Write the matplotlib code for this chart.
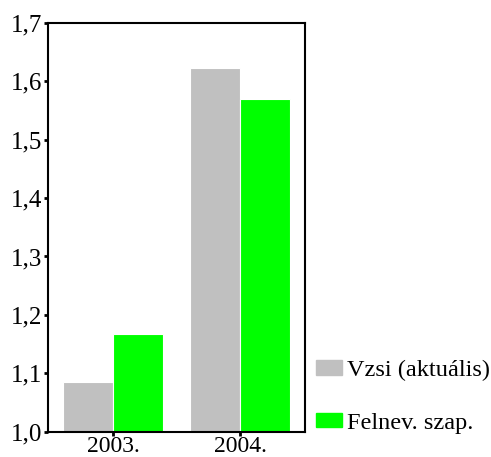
import matplotlib.pyplot as plt
import numpy as np
from matplotlib.patches import Patch

years = ['2003.', '2004.']
vzsi = [1.085, 1.622]
felnev = [1.168, 1.570]
series_names = ['Vzsi (aktuális)', 'Felnev. szap.']
y_ticks = [1.0, 1.1, 1.2, 1.3, 1.4, 1.5, 1.6, 1.7]

plt.rcParams['font.family'] = 'Liberation Serif'

fig = plt.figure(figsize=(4.91, 4.57), dpi=100)
ax = fig.add_axes([0.0978, 0.0554, 0.5234, 0.8946])

x = np.arange(len(years))
w = 0.395
ax.bar(x - w / 2, np.array(vzsi) - 1.0, w, bottom=1.0, color='#c0c0c0',
       edgecolor='white', linewidth=0.8)
ax.bar(x + w / 2, np.array(felnev) - 1.0, w, bottom=1.0, color='#00ff00',
       edgecolor='white', linewidth=0.8)

ax.set_xlim(-0.51, 1.51)
ax.set_ylim(1.0, 1.7)
ax.set_xticks(x)
ax.set_xticklabels(years, fontsize=17)
ax.set_yticks(y_ticks)
ax.set_yticklabels([f'{v:.1f}'.replace('.', ',') for v in y_ticks], fontsize=18)
ax.tick_params(axis='y', direction='out', length=3, width=2, pad=1)
ax.tick_params(axis='x', direction='out', length=3, width=2, pad=0)
for s in ax.spines.values():
    s.set_linewidth(1.5)

handles = [Patch(color='#c0c0c0'), Patch(color='#00ff00')]
fig.legend(handles, series_names, loc='center left',
           bbox_to_anchor=(0.644, 0.132), frameon=False, fontsize=17.5,
           handlelength=1.07, handleheight=0.53, handletextpad=0.2,
           labelspacing=1.3, borderaxespad=0, borderpad=0)

fig.savefig('out.png', dpi=100)
